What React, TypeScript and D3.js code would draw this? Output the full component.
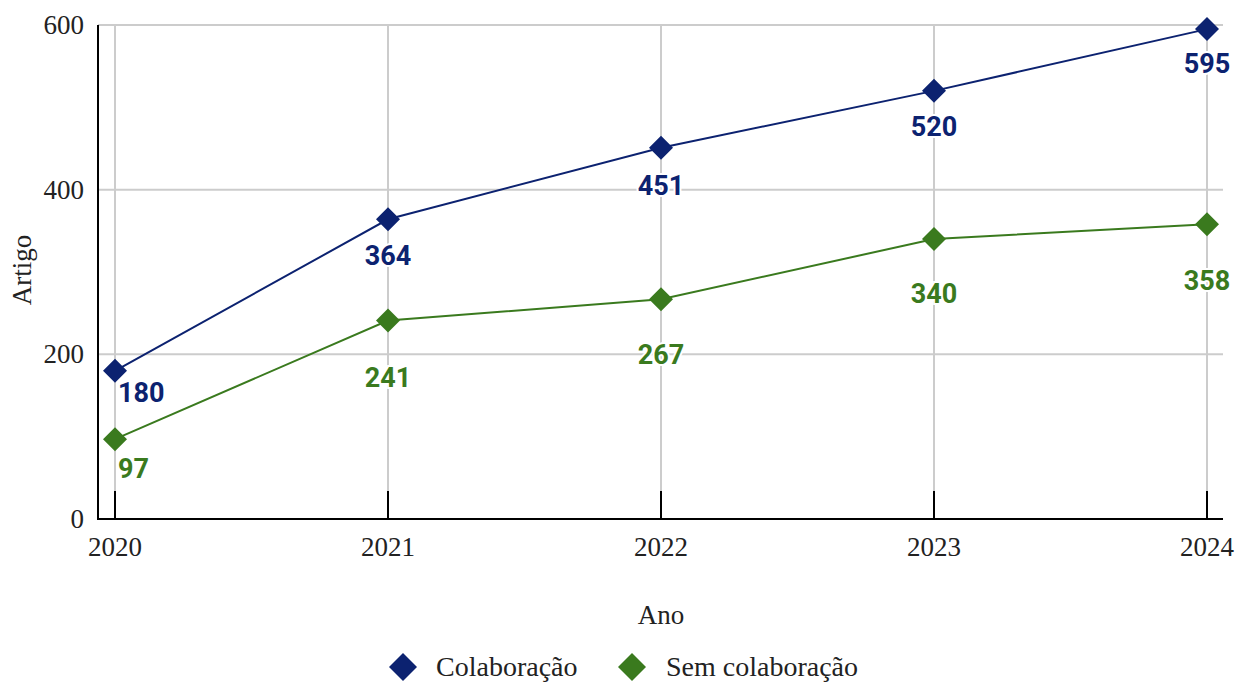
import React from "react";
import * as d3 from "d3";

const years = ["2020", "2021", "2022", "2023", "2024"];
const colaboracao = [180, 364, 451, 520, 595];
const semColaboracao = [97, 241, 267, 340, 358];
const yTicks = [0, 200, 400, 600];
const seriesNames = ["Colaboração", "Sem colaboração"];
// label placement offsets (px below point)
const labelOffsetA = [31, 46, 47, 45, 44];
const labelOffsetB = [39, 66, 65, 64, 66];

const W = 1245, H = 682;
const BLUE = "#0c2270";
const GREEN = "#3a7a1e";

export default function App() {
  const x = d3.scalePoint<string>().domain(years).range([115, 1207]);
  const y = d3.scaleLinear().domain([0, 600]).range([519, 25]);
  const left = 98, right = 1223, top = 25, bottom = 519;
  const line = d3.line<number>().x((_, i) => x(years[i])!).y((d) => y(d));
  const diamond = (cx: number, cy: number, r: number) =>
    `M${cx},${cy - r}L${cx + r},${cy}L${cx},${cy + r}L${cx - r},${cy}Z`;
  const series = [
    { values: colaboracao, color: BLUE, offs: labelOffsetA },
    { values: semColaboracao, color: GREEN, offs: labelOffsetB },
  ];
  return (
    <svg width={W} height={H} style={{ position: "absolute", left: 0, top: 0 }}>
      <rect width={W} height={H} fill="#fff" />
      {yTicks.filter((t) => t > 0).map((t) => (
        <line key={t} x1={left} x2={right} y1={y(t)} y2={y(t)} stroke="#cccccc" strokeWidth={2} />
      ))}
      {years.map((yr) => (
        <line key={yr} x1={x(yr)} x2={x(yr)} y1={top} y2={bottom} stroke="#cccccc" strokeWidth={2} />
      ))}
      {years.map((yr) => (
        <line key={"t" + yr} x1={x(yr)} x2={x(yr)} y1={bottom - 28} y2={bottom} stroke="#000" strokeWidth={2} />
      ))}
      <line x1={left} x2={left} y1={top} y2={bottom + 1} stroke="#000" strokeWidth={2} />
      <line x1={left - 1} x2={right} y1={bottom} y2={bottom} stroke="#000" strokeWidth={2} />
      {yTicks.map((t) => (
        <text key={t} x={84} y={y(t) + 9} textAnchor="end" fontFamily="Liberation Serif" fontSize={27} fill="#222">
          {t}
        </text>
      ))}
      {years.map((yr) => (
        <text key={yr} x={x(yr)} y={556} textAnchor="middle" fontFamily="Liberation Serif" fontSize={27} fill="#222">
          {yr}
        </text>
      ))}
      <text x={661} y={624} textAnchor="middle" fontFamily="Liberation Serif" fontSize={27} fill="#222">Ano</text>
      <text transform="translate(31,270) rotate(-90)" textAnchor="middle" fontFamily="Liberation Serif" fontSize={27} fill="#222">Artigo</text>
      {series.map((s, si) => (
        <g key={si}>
          <path d={line(s.values)!} fill="none" stroke={s.color} strokeWidth={2} />
          {s.values.map((v, i) => (
            <path key={i} d={diamond(x(years[i])!, y(v), 12)} fill={s.color} />
          ))}
          {s.values.map((v, i) => (
            <text
              key={"l" + i}
              x={i === 0 ? x(years[i])! + 3 : x(years[i])!}
              y={y(v) + s.offs[i]}
              textAnchor={i === 0 ? "start" : "middle"}
              fontFamily="Roboto"
              fontWeight="bold"
              fontSize={27}
              fill={s.color}
              stroke="#fff"
              strokeWidth={4}
              paintOrder="stroke"
            >
              {v}
            </text>
          ))}
        </g>
      ))}
      <g>
        <path d={diamond(403, 667, 14)} fill={BLUE} />
        <text x={436} y={676} fontFamily="Liberation Serif" fontSize={28} fill="#222">{seriesNames[0]}</text>
        <path d={diamond(632, 667, 14)} fill={GREEN} />
        <text x={666} y={676} fontFamily="Liberation Serif" fontSize={28} fill="#222">{seriesNames[1]}</text>
      </g>
    </svg>
  );
}
